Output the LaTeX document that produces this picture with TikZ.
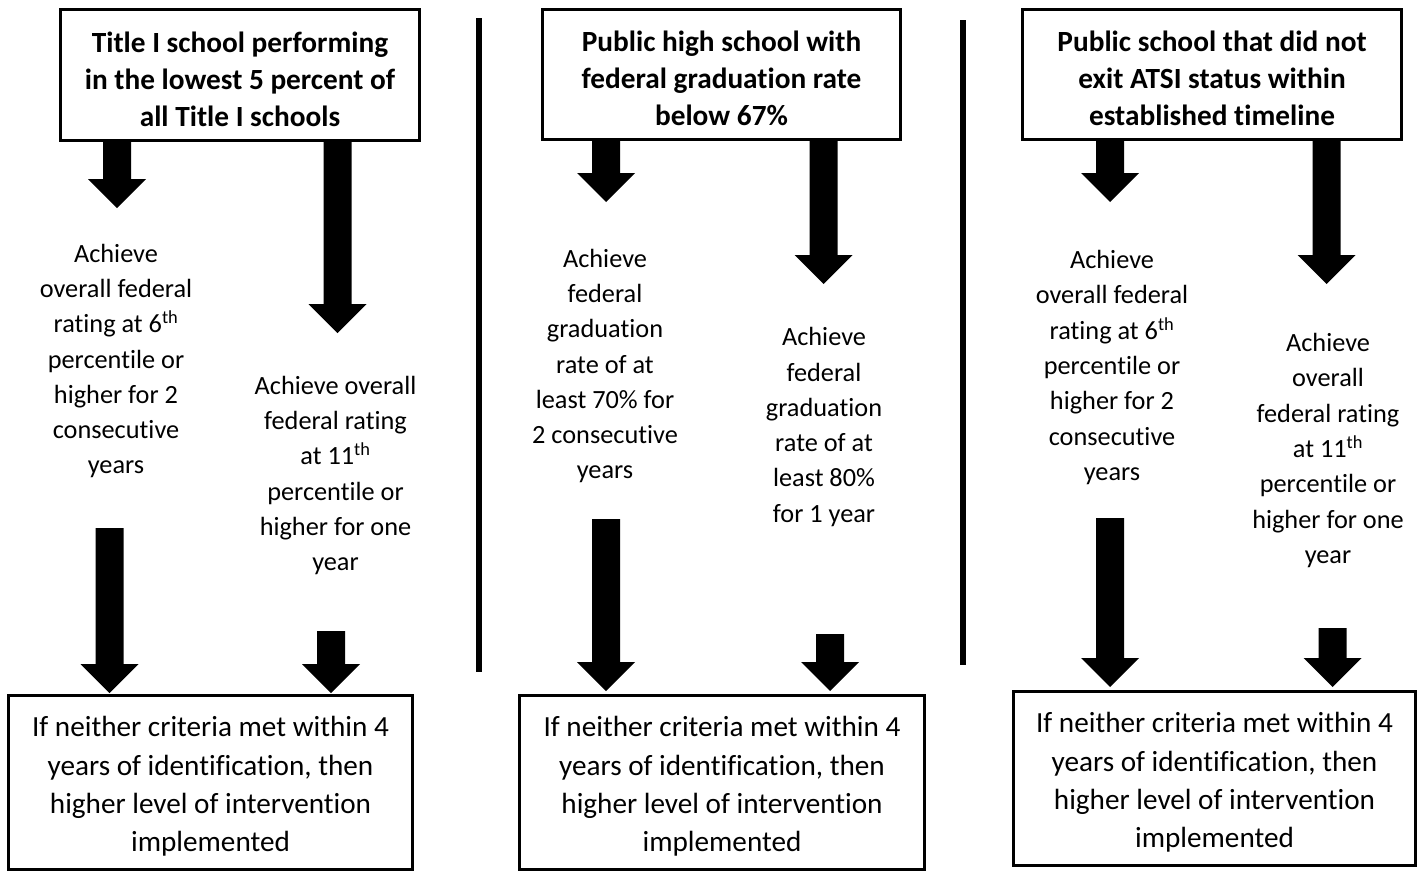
\documentclass[tikz,border=0pt]{standalone}
\usepackage{fontspec}
\setmainfont{Carlito}[RawFeature={-liga,-clig}]
\usetikzlibrary{calc}
\newcommand\fatarrow[2]{\fill let \p1=(#1), \p2=(#2) in
  ({\x1-14pt},\y1) -- ({\x1+14pt},\y1) -- ({\x1+14pt},{\y2+29pt}) -- ({\x1+29pt},{\y2+29pt})
  -- (\x1,\y2) -- ({\x1-29pt},{\y2+29pt}) -- ({\x1-14pt},{\y2+29pt}) -- cycle;}
\begin{document}
\begin{tikzpicture}[x=1pt,y=-1pt,
  boxline/.style={draw, line width=3pt, inner sep=0pt},
  toptext/.style={align=center, inner sep=0pt, yshift=-4pt, font=\bfseries\fontsize{29.3}{37}\selectfont},
  endtext/.style={align=center, inner sep=0pt, yshift=-4pt, font=\fontsize{29.2}{38.3}\selectfont},
  crit/.style={align=center, inner sep=0pt, font=\fontsize{26.3}{35.3}\selectfont},
  divider/.style={line width=6pt}]
\useasboundingbox[fill=white] (0,0) rectangle (1423,873);

% top boxes
\node[boxline, minimum width=359pt, minimum height=131pt,
  label={[toptext]center:{Title I school performing\\in the lowest 5 percent of\\all Title I schools}}] (t1) at (240,75) {};
\node[boxline, minimum width=358pt, minimum height=130pt,
  label={[toptext]center:{Public high school with\\federal graduation rate\\below 67\%}}] (t2) at (721.5,74.5) {};
\node[boxline, minimum width=379pt, minimum height=130pt,
  label={[toptext]center:{Public school that did not\\exit ATSI status within\\established timeline}}] (t3) at (1212,74.5) {};

% end boxes
\node[boxline, minimum width=404pt, minimum height=174pt,
  label={[endtext]center:{If neither criteria met within 4\\years of identification, then\\higher level of intervention\\implemented}}] (e1) at (210.5,782.5) {};
\node[boxline, minimum width=405pt, minimum height=174pt,
  label={[endtext]center:{If neither criteria met within 4\\years of identification, then\\higher level of intervention\\implemented}}] (e2) at (722,782.5) {};
\node[boxline, minimum width=402pt, minimum height=174pt,
  label={[endtext]center:{If neither criteria met within 4\\years of identification, then\\higher level of intervention\\implemented}}] (e3) at (1214.5,778.5) {};

% criteria
\node[crit] (c1) at (116,361) {Achieve\\overall federal\\rating at 6\textsuperscript{th}\\percentile or\\higher for 2\\consecutive\\years};
\node[crit] (c2) at (335.5,475.5) {Achieve overall\\federal rating\\at 11\textsuperscript{th}\\percentile or\\higher for one\\year};
\node[crit] (c3) at (605,366) {Achieve\\federal\\graduation\\rate of at\\least 70\% for\\2 consecutive\\years};
\node[crit] (c4) at (824,427) {Achieve\\federal\\graduation\\rate of at\\least 80\%\\for 1 year};
\node[crit] (c5) at (1112,367.5) {Achieve\\overall federal\\rating at 6\textsuperscript{th}\\percentile or\\higher for 2\\consecutive\\years};
\node[crit] (c6) at (1328,450.5) {Achieve\\overall\\federal rating\\at 11\textsuperscript{th}\\percentile or\\higher for one\\year};

% dividers
\coordinate (d1a) at (478.5,18); \coordinate (d1b) at (478.5,672);
\coordinate (d2a) at (963,20);   \coordinate (d2b) at (963,665);
\draw[divider] (d1a) -- (d1b);
\draw[divider] (d2a) -- (d2b);

% arrow end points
\coordinate (a1s) at (117,142);    \coordinate (a1e) at (117,208);
\coordinate (a2s) at (337.5,142);  \coordinate (a2e) at (337.5,333);
\coordinate (a3s) at (606,141);    \coordinate (a3e) at (606,202);
\coordinate (a4s) at (823.5,141);  \coordinate (a4e) at (823.5,284);
\coordinate (a5s) at (1110,141);   \coordinate (a5e) at (1110,202);
\coordinate (a6s) at (1326.5,141); \coordinate (a6e) at (1326.5,284);
\coordinate (b1s) at (109.5,528);  \coordinate (b1e) at (109.5,693);
\coordinate (b2s) at (331,631);    \coordinate (b2e) at (331,693);
\coordinate (b3s) at (606,519);    \coordinate (b3e) at (606,691);
\coordinate (b4s) at (830,634);    \coordinate (b4e) at (830,691);
\coordinate (b5s) at (1110,518);   \coordinate (b5e) at (1110,687);
\coordinate (b6s) at (1332.5,628); \coordinate (b6e) at (1332.5,687);

\fatarrow{a1s}{a1e}
\fatarrow{a2s}{a2e}
\fatarrow{a3s}{a3e}
\fatarrow{a4s}{a4e}
\fatarrow{a5s}{a5e}
\fatarrow{a6s}{a6e}
\fatarrow{b1s}{b1e}
\fatarrow{b2s}{b2e}
\fatarrow{b3s}{b3e}
\fatarrow{b4s}{b4e}
\fatarrow{b5s}{b5e}
\fatarrow{b6s}{b6e}
\end{tikzpicture}
\end{document}
